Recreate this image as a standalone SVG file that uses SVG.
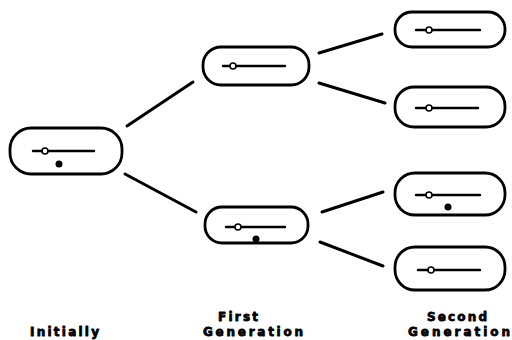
<svg xmlns="http://www.w3.org/2000/svg" width="512" height="340" viewBox="0 0 512 340">
<style>
.box{fill:none;stroke:#000;stroke-width:2.8}
.bar{stroke:#000;stroke-width:2.4;stroke-linecap:round}
.ring{fill:#fff;stroke:#000;stroke-width:1.6}
.dot{fill:#000}
.conn line{stroke:#000;stroke-width:3;stroke-linecap:round}
.lbl{font-family:"DejaVu Sans",sans-serif;font-weight:bold;font-size:12px;fill:#000;stroke:#000;stroke-width:0.8;stroke-linejoin:round}
</style>
<rect width="512" height="340" fill="#fff"/>
<g class="conn" id="connectors">
<line x1="127" y1="126" x2="193" y2="82"/>
<line x1="125" y1="174" x2="196" y2="212"/>
<line x1="319" y1="53" x2="382" y2="34"/>
<line x1="319" y1="83" x2="385" y2="103"/>
<line x1="322" y1="212" x2="383" y2="192"/>
<line x1="320" y1="242" x2="383" y2="266"/>
</g>
<g id="initial">
<rect class="box" x="10" y="128" width="112" height="46" rx="21"/>
<line class="bar" x1="33" y1="151" x2="94" y2="151"/>
<circle class="ring" cx="45" cy="151" r="3"/>
<circle class="dot" cx="59" cy="164" r="3.5"/>
</g>
<g id="first-top">
<rect class="box" x="203" y="47" width="106" height="38" rx="18"/>
<line class="bar" x1="223" y1="66" x2="285" y2="66"/>
<circle class="ring" cx="233" cy="66" r="3"/>
</g>
<g id="first-bottom">
<rect class="box" x="205" y="207" width="103" height="36" rx="17"/>
<line class="bar" x1="226" y1="227" x2="285" y2="227"/>
<circle class="ring" cx="238" cy="227" r="3"/>
<circle class="dot" cx="256" cy="239" r="3.5"/>
</g>
<g id="second-1">
<rect class="box" x="395" y="12" width="110" height="35" rx="17"/>
<line class="bar" x1="416" y1="30" x2="480" y2="30"/>
<circle class="ring" cx="429" cy="30" r="3"/>
</g>
<g id="second-2">
<rect class="box" x="395" y="87" width="110" height="40" rx="19"/>
<line class="bar" x1="416" y1="108" x2="478" y2="108"/>
<circle class="ring" cx="429" cy="108" r="3"/>
</g>
<g id="second-3">
<rect class="box" x="395" y="173" width="110" height="42" rx="20"/>
<line class="bar" x1="416" y1="195" x2="480" y2="195"/>
<circle class="ring" cx="429" cy="195" r="3"/>
<circle class="dot" cx="448" cy="207" r="3.5"/>
</g>
<g id="second-4">
<rect class="box" x="395" y="247" width="110" height="43" rx="20"/>
<line class="bar" x1="418" y1="270" x2="480" y2="270"/>
<circle class="ring" cx="431" cy="270" r="3"/>
</g>
<g id="labels">
<text class="lbl" x="64.5" y="336" text-anchor="middle" textLength="69" lengthAdjust="spacing">Initially</text>
<text class="lbl" x="238" y="321" text-anchor="middle" textLength="40" lengthAdjust="spacing">First</text>
<text class="lbl" x="253" y="336" text-anchor="middle" textLength="100" lengthAdjust="spacing">Generation</text>
<text class="lbl" x="457" y="321" text-anchor="middle" textLength="60" lengthAdjust="spacing">Second</text>
<text class="lbl" x="459" y="336" text-anchor="middle" textLength="102" lengthAdjust="spacing">Generation</text>
</g>
</svg>
